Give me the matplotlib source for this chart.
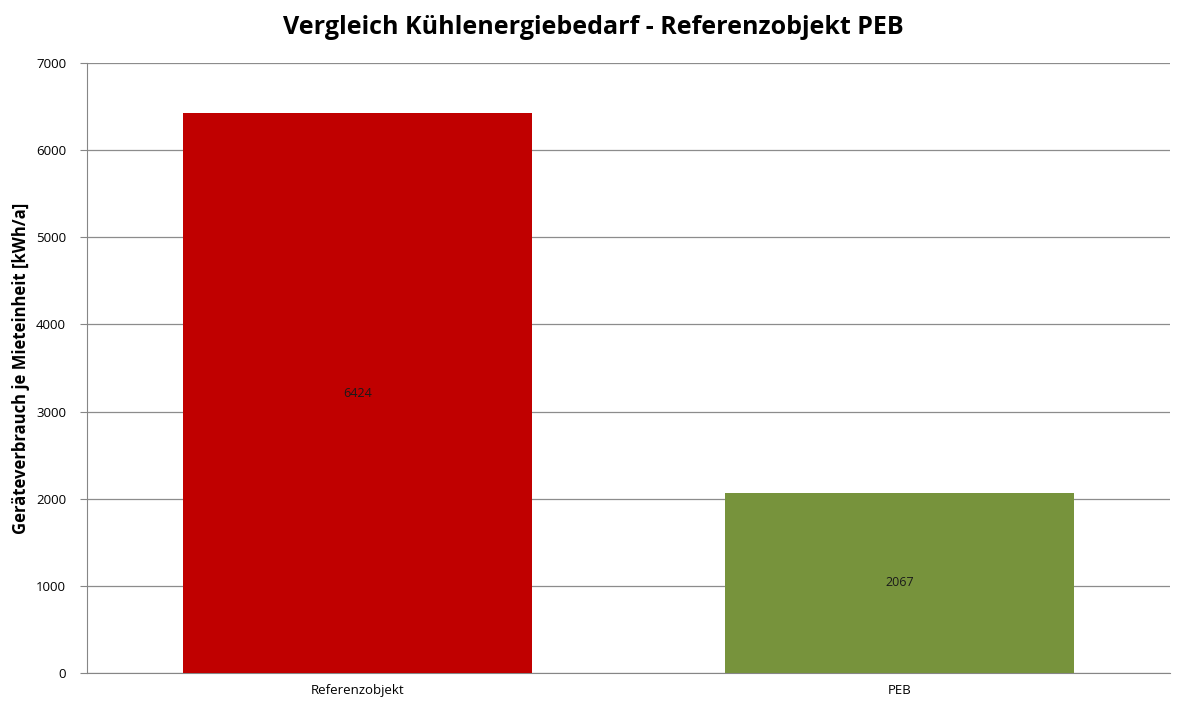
import matplotlib
matplotlib.use("Agg")
import matplotlib.pyplot as plt

categories = ["Referenzobjekt", "PEB"]
values = [6424, 2067]
bar_colors = ["#C00000", "#77933C"]
yticks = [0, 1000, 2000, 3000, 4000, 5000, 6000, 7000]

plt.rcParams["font.family"] = ["Open Sans", "DejaVu Sans"]

fig = plt.figure(figsize=(11.86, 7.04), dpi=100)
ax = fig.add_axes([87 / 1186, 1 - 673 / 704, (1170 - 87) / 1186, (673 - 63) / 704])

x = list(range(len(categories)))
bars = ax.bar(x, values, width=0.645, color=bar_colors, zorder=3)
for xi, v in zip(x, values):
    ax.text(xi, v / 2, str(v), ha="center", va="center", fontsize=9, color="#1a1a1a", zorder=4)

ax.set_xlim(-0.5, 1.5)
ax.set_ylim(0, 7000)
ax.set_yticks(yticks)
ax.set_yticklabels([str(t) for t in yticks], fontsize=9.5)
ax.set_xticks(x)
ax.set_xticklabels(categories, fontsize=9.5)
ax.tick_params(axis="x", length=0, pad=8)
ax.tick_params(axis="y", length=5, color="#868686", pad=10)

ax.yaxis.grid(True, color="#8c8c8c", linewidth=0.9, zorder=0)
for side in ("top", "right"):
    ax.spines[side].set_visible(False)
for side in ("left", "bottom"):
    ax.spines[side].set_color("#868686")

ax.set_ylabel("Geräteverbrauch je Mieteinheit [kWh/a]", fontsize=12, fontweight="bold", labelpad=4)
fig.text(0.5, 1 - 27 / 704, "Vergleich Kühlenergiebedarf - Referenzobjekt PEB",
         ha="center", va="center", fontsize=18, fontweight="bold")

fig.savefig("out.png", dpi=100)
